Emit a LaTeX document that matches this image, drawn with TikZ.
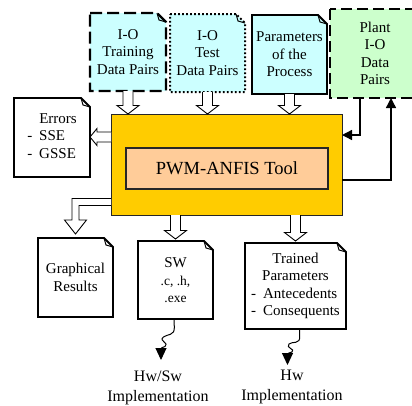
\documentclass[tikz,border=0pt]{standalone}
\usepackage{fontspec}
\setmainfont{Liberation Serif}
\usetikzlibrary{calc,backgrounds,arrows.meta}
\definecolor{incyan}{HTML}{CCFFFF}
\definecolor{plantgreen}{HTML}{CCFFCC}
\definecolor{toolorange}{HTML}{FFCC00}
\definecolor{corepeach}{HTML}{FFCC99}

% document outline with a folded top-right corner, built on a node's border
\newcommand{\docbox}[2]{%
  \path[#2] (#1.north west) -- ($(#1.north east)+(-9,0)$) -- ($(#1.north east)+(0,9)$)
    -- (#1.south east) -- (#1.south west) -- cycle;
  \draw[fold] ($(#1.north east)+(-9,0)$) -- ($(#1.north east)+(-7,7)$) -- ($(#1.north east)+(0,9)$);}

% hollow block arrows
\newcommand{\hollowdown}[2]{%
  \path[hollow] let \p1=#1, \p2=#2 in
    (\x1-5pt,\y1) -- (\x1-5pt,\y2+8.5pt) -- (\x1-11pt,\y2+8.5pt) -- (\x1,\y2)
    -- (\x1+11pt,\y2+8.5pt) -- (\x1+5pt,\y2+8.5pt) -- (\x1+5pt,\y1);}
\newcommand{\hollowleft}[2]{%
  \path[hollow] let \p1=#1, \p2=#2 in
    (\x1,\y1+5pt) -- (\x2+7pt,\y1+5pt) -- (\x2+7pt,\y1+8.5pt) -- (\x2,\y1)
    -- (\x2+7pt,\y1-8.5pt) -- (\x2+7pt,\y1-5pt) -- (\x1,\y1-5pt);}

\begin{document}
\begin{tikzpicture}[x=1pt,y=-1pt,
  txt/.style={inner sep=0pt,outer sep=0pt,align=center,font=\fontsize{15}{17.4}\selectfont},
  fold/.style={line width=1pt,solid},
  solidbox/.style={fill=white,draw=black,line width=1.8pt,line join=miter},
  hollow/.style={fill=white,draw=black,line width=0.9pt,line join=miter},
  link/.style={line width=1.4pt,-{Triangle[length=10pt,width=10pt]}},
  wavy/.style={line width=1pt,-{Triangle[length=12pt,width=11pt]}}]

\useasboundingbox (0,0) rectangle (412,405);

% input documents
\node[txt,minimum width=76pt,minimum height=78pt] (train) at (128,52) {I-O\\Training\\Data Pairs};
\node[txt,minimum width=75pt,minimum height=78pt] (test) at (207.5,53) {I-O\\Test\\Data Pairs};
\node[txt,minimum width=75pt,minimum height=79pt] (param) at (289.5,54.5) {Parameters\\of the\\Process};
\node[txt,minimum width=90pt,minimum height=89pt] (plant) at (375,53.5) {Plant\\I-O\\Data\\Pairs};

% the tool
\node[txt,minimum width=231pt,minimum height=101pt,fill=toolorange,draw=black!85,line width=0.9pt] (main) at (226.5,164.5) {};
\node[txt,minimum width=202pt,minimum height=41pt,fill=corepeach,draw=black!85,line width=1.1pt,
      font=\fontsize{18.5}{22}\selectfont] (core) at (227,168.5) {PWM-ANFIS Tool};

% outputs
\node[txt,minimum width=76pt,minimum height=79pt] (errors) at (52,137.5)
  {\begin{tabular}{@{}l@{\hspace{7pt}}l@{}} & Errors\\ - & SSE\\ - & GSSE\end{tabular}};
\node[txt,minimum width=75pt,minimum height=79pt] (graph) at (75.5,277.5) {Graphical\\Results};
\node[txt,minimum width=75pt,minimum height=78pt] (sw) at (175.5,280)
  {SW\\[0.5pt]{\fontsize{13.5}{16}\selectfont .c, .h,}\\{\fontsize{13.5}{16}\selectfont .exe}};
\node[txt,minimum width=101pt,minimum height=86pt] (trained) at (295.5,286)
  {\begin{tabular}{@{}l@{\hspace{7pt}}l@{}}\multicolumn{2}{c}{Trained}\\ \multicolumn{2}{c}{Parameters}\\
   - & Antecedents\\ - & Consequents\end{tabular}};

\node[txt,font=\fontsize{16}{20}\selectfont,anchor=north] (hwsw) at (158,371) {Hw/Sw\\Implementation};
\node[txt,font=\fontsize{16}{20}\selectfont,anchor=north] (hw) at (292,370) {Hw\\Implementation};

% document outlines behind the texts
\begin{scope}[on background layer]
  \docbox{train}{fill=incyan,draw=black,line width=2.2pt,dash pattern=on 12pt off 5pt}
  \docbox{test}{fill=incyan,draw=black,line width=2pt,dash pattern=on 1.8pt off 2.2pt}
  \docbox{param}{solidbox,fill=incyan}
  \begin{scope}
    \clip (0,0) rectangle (412,405);
    \draw[fill=plantgreen,draw=black,line width=2.2pt,dash pattern=on 11pt off 5pt]
      (plant.north west) rectangle (plant.south east);
  \end{scope}
  \docbox{errors}{solidbox}
  \docbox{graph}{solidbox}
  \docbox{sw}{solidbox}
  \docbox{trained}{solidbox}
\end{scope}

% data flowing into the tool
\hollowdown{(train.south)}{(train.south |- main.north)}
\hollowdown{(test.south)}{(test.south |- main.north)}
\hollowdown{(param.south)}{(param.south |- main.north)}

% results flowing out of the tool
\coordinate (errout) at ($(main.north west)+(0,23)$);
\hollowleft{(errout)}{(errors.east |- errout)}
\coordinate (grout) at ($(main.north west)+(0,88)$);
\path[hollow] let \p1=(grout), \p2=($(graph.north)+(0,-4)$) in
  (\x1,\y1+3.5pt) -- (\x2-3.5pt,\y1+3.5pt) -- (\x2-3.5pt,\y2+14pt) -- (\x2-11pt,\y2+14pt)
  -- (\x2,\y2) -- (\x2+11pt,\y2+14pt) -- (\x2+3.5pt,\y2+14pt) -- (\x2+3.5pt,\y1-3.5pt) -- (\x1,\y1-3.5pt);
\hollowdown{(sw.north |- main.south)}{($(sw.north)+(0,-2)$)}
\hollowdown{(trained.north |- main.south)}{($(trained.north)+(0,-2)$)}

% exchange with the plant
\draw[link] ($(plant.south west)+(30,0)$) |- ($(main.north east)+(0,21)$);
\draw[link] ($(main.north east)+(0,66)$) -| ($(plant.south west)+(61,0)$);

% implementation paths
\coordinate (swfoot) at ($(sw.south)+(-1.5,0)$);
\coordinate (swtip) at ($(hwsw.north)+(3,-11)$);
\draw[wavy] (swfoot) -- (174.3,327) .. controls (175,336) and (167,334) .. (163.5,337)
  .. controls (158,341) and (170,343) .. (165,346.5)
  .. controls (162,348) and (161,347) .. (161,350) -- (swtip);
\coordinate (trfoot) at ($(trained.south)+(4,0)$);
\coordinate (hwtip) at ($(hw.north)+(-4.5,-5)$);
\draw[wavy] (trfoot) -- (299.7,336) .. controls (300.5,345) and (292,341) .. (289,344)
  .. controls (285,348) and (296,349) .. (292,352)
  .. controls (289,353) and (287.5,353) .. (287.5,355) -- (hwtip);
\end{tikzpicture}
\end{document}
